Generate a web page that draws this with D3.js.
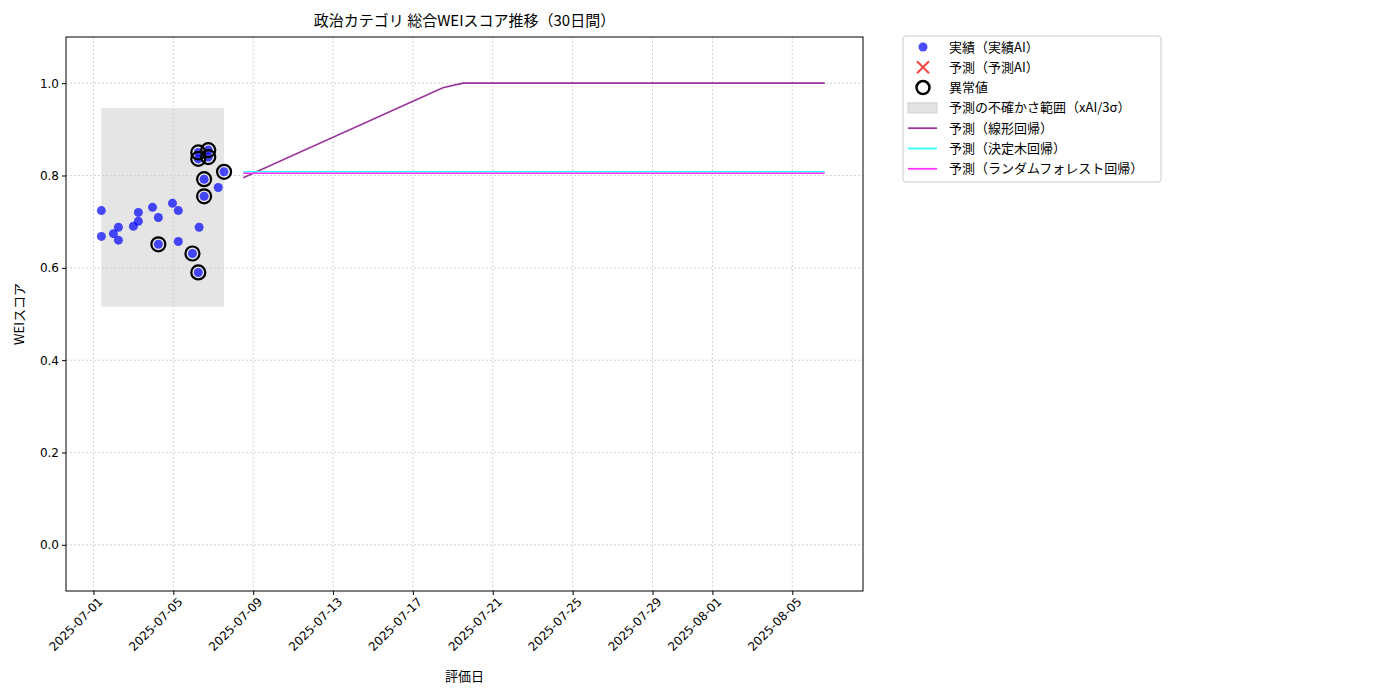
<!DOCTYPE html>
<html><head><meta charset="utf-8">
<script src="https://cdn.jsdelivr.net/npm/d3@7"></script>
<style>body{margin:0;background:#fff;font-family:"Noto Sans CJK JP","DejaVu Sans",sans-serif;}</style>
</head><body><svg id="c" width="1400" height="700"></svg>
<script>
// actual values (date, score)
const actualDates = ["2025-07-01T09:30","2025-07-01T09:30","2025-07-02T00:00","2025-07-02T06:00","2025-07-02T06:00","2025-07-03T00:00","2025-07-03T06:00","2025-07-03T06:00","2025-07-03T23:00","2025-07-04T06:00","2025-07-04T06:00","2025-07-04T23:00","2025-07-05T06:00","2025-07-05T06:00","2025-07-05T23:00","2025-07-06T06:00","2025-07-06T07:00","2025-07-06T13:00","2025-07-06T13:00","2025-07-07T06:00","2025-07-07T13:00","2025-07-06T06:00","2025-07-06T06:00","2025-07-06T18:00","2025-07-06T18:00"];
const actualValues = [0.724,0.668,0.674,0.688,0.660,0.690,0.701,0.720,0.731,0.709,0.651,0.740,0.724,0.657,0.631,0.590,0.688,0.755,0.792,0.774,0.808,0.850,0.836,0.855,0.840];
const anomalyIdx = [10,14,15,17,18,20,21,22,23,24];
const bandRange = {x0:"2025-07-01T09:30", x1:"2025-07-07T13:00", y0:0.516, y1:0.946};
const linDates = ["2025-07-08T12:00","2025-07-18T12:00","2025-07-19T12:00","2025-08-06T15:00"];
const linValues = [0.795,0.990,1.0,1.0];
const treeDates = ["2025-07-08T12:00","2025-08-06T15:00"];
const treeValues = [0.808,0.808];
const rfValues = [0.805,0.805];
const xTicks = ["2025-07-01","2025-07-05","2025-07-09","2025-07-13","2025-07-17","2025-07-21","2025-07-25","2025-07-29","2025-08-01","2025-08-05"];
const yTicks = [0,0.2,0.4,0.6,0.8,1.0];

const P = d3.timeParse("%Y-%m-%dT%H:%M"), PD = d3.timeParse("%Y-%m-%d");
const svg = d3.select("#c");
const L=66,R=863,T=37,B=591;
const t0 = PD("2025-07-01");
const x = d3.scaleTime().domain([d3.timeHour.offset(t0,-32.4), d3.timeHour.offset(t0,38.55*24)]).range([L,R]);
const y = d3.scaleLinear().domain([-0.1,1.1]).range([B,T]);

const grid = svg.append("g").attr("stroke","#c8c8c8").attr("stroke-dasharray","2,2").attr("stroke-width",0.8);
xTicks.forEach(t=>grid.append("line").attr("x1",x(PD(t))).attr("x2",x(PD(t))).attr("y1",T).attr("y2",B));
yTicks.forEach(t=>grid.append("line").attr("y1",y(t)).attr("y2",y(t)).attr("x1",L).attr("x2",R));

svg.append("rect").attr("x",x(P(bandRange.x0))).attr("width",x(P(bandRange.x1))-x(P(bandRange.x0)))
  .attr("y",y(bandRange.y1)).attr("height",y(bandRange.y0)-y(bandRange.y1)).attr("fill","#cfcfcf").attr("opacity",0.55);

const line = d3.line().x(d=>x(d[0])).y(d=>y(d[1]));
svg.append("path").attr("d",line(linDates.map((d,i)=>[P(d),linValues[i]]))).attr("fill","none").attr("stroke","#993399").attr("stroke-width",1.6);
svg.append("path").attr("d",line(treeDates.map((d,i)=>[P(d),treeValues[i]]))).attr("fill","none").attr("stroke","#33ffff").attr("stroke-width",1.6);
svg.append("path").attr("d",line(treeDates.map((d,i)=>[P(d),rfValues[i]]))).attr("fill","none").attr("stroke","#ff33ff").attr("stroke-width",1.6);

svg.append("g").selectAll("circle").data(actualDates).join("circle")
  .attr("cx",d=>x(P(d))).attr("cy",(d,i)=>y(actualValues[i])).attr("r",4.5).attr("fill","#0000ff").attr("opacity",0.7);
svg.append("g").selectAll("circle").data(anomalyIdx).join("circle")
  .attr("cx",i=>x(P(actualDates[i]))).attr("cy",i=>y(actualValues[i])).attr("r",7).attr("fill","none").attr("stroke","#000").attr("stroke-width",2.2);

svg.append("rect").attr("x",L).attr("y",T).attr("width",R-L).attr("height",B-T).attr("fill","none").attr("stroke","#000");

const ya = svg.append("g").attr("transform",`translate(${L},0)`).call(d3.axisLeft(y).tickValues(yTicks).tickFormat(d3.format(".1f")).tickSize(4));
ya.select(".domain").remove();
ya.selectAll("text").attr("font-size",12).attr("fill","#000").attr("font-family","DejaVu Sans");
const xa = svg.append("g").attr("transform",`translate(0,${B})`).call(d3.axisBottom(x).tickValues(xTicks.map(PD)).tickFormat(d3.timeFormat("%Y-%m-%d")).tickSize(4));
xa.select(".domain").remove();
xa.selectAll("text").attr("font-size",12).attr("fill","#000").attr("font-family","DejaVu Sans")
  .attr("text-anchor","end").attr("transform","translate(2,4) rotate(-45)").attr("dy","0.3em").attr("dx","0");

svg.append("text").attr("x",(L+R)/2).attr("y",26).attr("text-anchor","middle").attr("font-size",15).text("政治カテゴリ 総合WEIスコア推移（30日間）");
svg.append("text").attr("x",(L+R)/2).attr("y",681).attr("text-anchor","middle").attr("font-size",13).text("評価日");
svg.append("text").attr("transform",`translate(24,${(T+B)/2}) rotate(-90)`).attr("text-anchor","middle").attr("font-size",13).text("WEIスコア");

// legend
const lg = svg.append("g").attr("transform","translate(903,36)");
lg.append("rect").attr("width",258).attr("height",146).attr("rx",3).attr("fill","#fff").attr("stroke","#ccc");
const labels = ["実績（実績AI）","予測（予測AI）","異常値","予測の不確かさ範囲（xAI/3σ）","予測（線形回帰）","予測（決定木回帰）","予測（ランダムフォレスト回帰）"];
labels.forEach((s,i)=>{
  const cy = 11+i*20.3;
  lg.append("text").attr("x",46).attr("y",cy+4.5).attr("font-size",13).text(s);
  if(i===0) lg.append("circle").attr("cx",20).attr("cy",cy).attr("r",4.5).attr("fill","#0000ff").attr("opacity",0.7);
  if(i===1){ lg.append("path").attr("d",`M14,${cy-6}L26,${cy+6}M14,${cy+6}L26,${cy-6}`).attr("stroke","#ff4444").attr("stroke-width",2);}
  if(i===2) lg.append("circle").attr("cx",20).attr("cy",cy).attr("r",6.5).attr("fill","none").attr("stroke","#000").attr("stroke-width",2.5);
  if(i===3) lg.append("rect").attr("x",5).attr("y",cy-5).attr("width",29).attr("height",10).attr("fill","#e3e3e3").attr("stroke","#d0d0d0");
  if(i>=4) lg.append("line").attr("x1",5).attr("x2",34).attr("y1",cy).attr("y2",cy).attr("stroke",["#993399","#33ffff","#ff33ff"][i-4]).attr("stroke-width",1.8);
});
</script></body></html>
